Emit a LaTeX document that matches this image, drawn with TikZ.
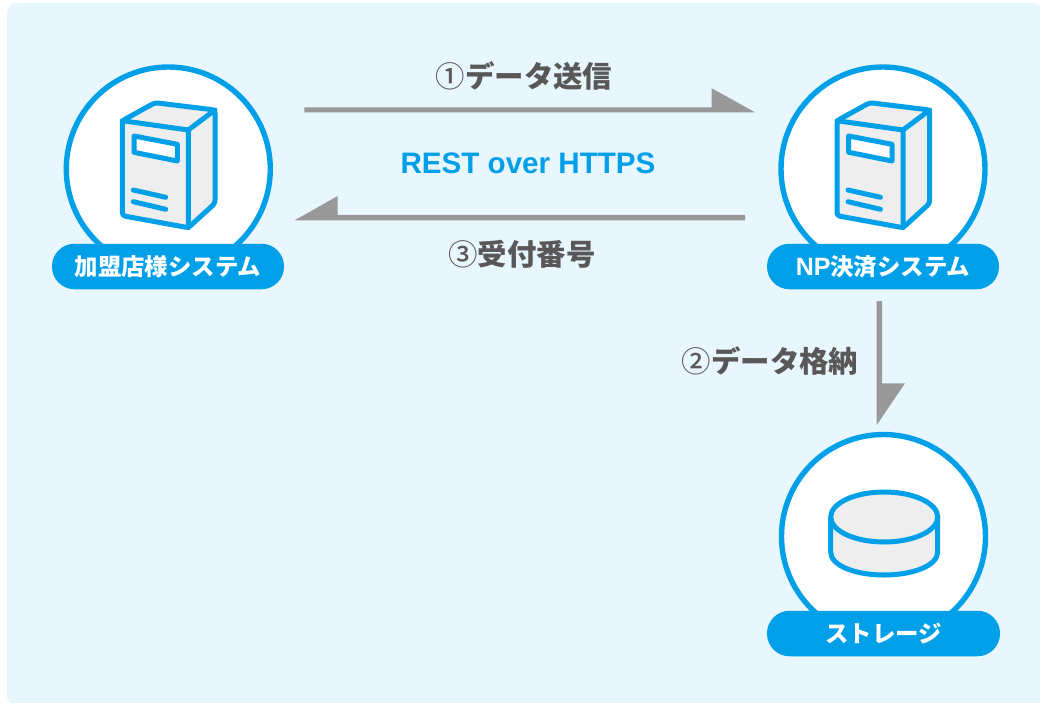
\documentclass[tikz,border=0pt]{standalone}
\usepackage{fontspec}
\setmainfont{Noto Sans CJK JP}[BoldFont={Noto Sans CJK JP Black}]
\newfontfamily\latinb{Liberation Sans}[BoldFont={Liberation Sans Bold}]
\newfontfamily\cjkreg{Noto Sans CJK JP Medium}
\definecolor{npblue}{HTML}{00A0E9}
\definecolor{panelbg}{HTML}{E8F6FE}
\definecolor{flowgray}{HTML}{999999}
\definecolor{labelgray}{HTML}{595757}
\definecolor{bodygray}{HTML}{EEEEEE}
\newcommand{\servericon}[1]{%
\begin{scope}[xshift=#1pt]
  \fill[bodygray,rounded corners=3pt] (122.3,120.7) -- (155,102.7) -- (215,110) -- (215,203.3) -- (188.3,227.7) -- (122.3,215.7) -- cycle;
  \draw[icon,rounded corners=3pt] (122.3,120.7) -- (155,102.7) -- (215,110) -- (215,203.3) -- (188.3,227.7) -- (122.3,215.7) -- cycle;
  \draw[icon] (122.3,120.7) -- (188.3,130) -- (188.3,227.7);
  \draw[icon] (188.3,130) -- (215,110);
  \draw[icon,fill=white] (134,136) -- (177.3,144.3) -- (177.3,161) -- (134,152.3) -- cycle;
  \draw[icon] (133.3,190) -- (165.7,197.3);
  \draw[icon] (133.3,201.7) -- (165.7,209.3);
\end{scope}}
\begin{document}
\begin{tikzpicture}[x=1pt,y=-1pt,
  icon/.style={draw=npblue,line width=5pt,line join=round,line cap=round},
  ring/.style={circle,draw=npblue,fill=white,line width=5.4pt,minimum size=204pt,inner sep=0pt},
  pill/.style={rounded corners=22.5pt,fill=npblue,text=white,font=\bfseries\fontsize{23.4}{23.4}\selectfont,minimum width=232pt,minimum height=45.5pt,inner sep=0pt},
  flowlabel/.style={text=labelgray,font=\bfseries\fontsize{29.4}{29.4}\selectfont,inner sep=0pt},
  flow/.style={fill=flowgray}]
\useasboundingbox (0,0) rectangle (1040,703);
\fill[panelbg,rounded corners=10pt] (7,3) -- (1042,3) -- (1042,706) -- (7,706) -- cycle;

\node[ring] (c1) at (168.3,169) {};
\node[ring] (c2) at (883,169) {};
\node[ring] (c3) at (883.5,536.5) {};

\servericon{0}
\servericon{714.7}

% disk
\draw[icon,fill=bodygray] (830.7,517) -- (830.7,552) .. controls (830.7,566) and (856,575) .. (884.2,575) .. controls (912,575) and (937.7,566) .. (937.7,552) -- (937.7,517);
\draw[icon,fill=bodygray] (884.2,517) ellipse [x radius=53.5, y radius=25];

\node[pill] (p1) at (168,266.5) {加盟店様システム};
\node[pill] (p2) at (883,266.5) {{\latinb\bfseries\fontsize{25}{25}\selectfont NP}決済システム};
\node[pill,minimum width=233pt] (p3) at (883.5,633.5) {ストレージ};

\coordinate (a1s) at (304.3,107.3);
\coordinate (a1e) at (755,112.3);
\fill[flow] (a1s) -- (711.7,107.3) -- (711.7,88.3) -- (a1e) -- (304.3,112.3) -- cycle;
\coordinate (a2s) at (745,215);
\coordinate (a2e) at (294.7,220.3);
\fill[flow] (a2s) -- (337.7,215) -- (337.7,196) -- (a2e) -- (745,220.3) -- cycle;
\coordinate (a3s) at (882,301);
\coordinate (a3e) at (876.7,425);
\fill[flow] (a3s) -- (882,383.3) -- (905,383.3) -- (a3e) -- (876.7,301) -- cycle;

\node[flowlabel,anchor=center] (l1) at (524,76) {{\cjkreg\mdseries ①}データ送信};
\node[text=npblue,font=\latinb\bfseries\fontsize{29.6}{29.6}\selectfont,inner sep=0pt] (l0) at (528,163.5) {REST over HTTPS};
\node[flowlabel] (l3) at (522,254.5) {{\cjkreg\mdseries ③}受付番号};
\node[flowlabel] (l2) at (770,361.5) {{\cjkreg\mdseries ②}データ格納};
\end{tikzpicture}
\end{document}
